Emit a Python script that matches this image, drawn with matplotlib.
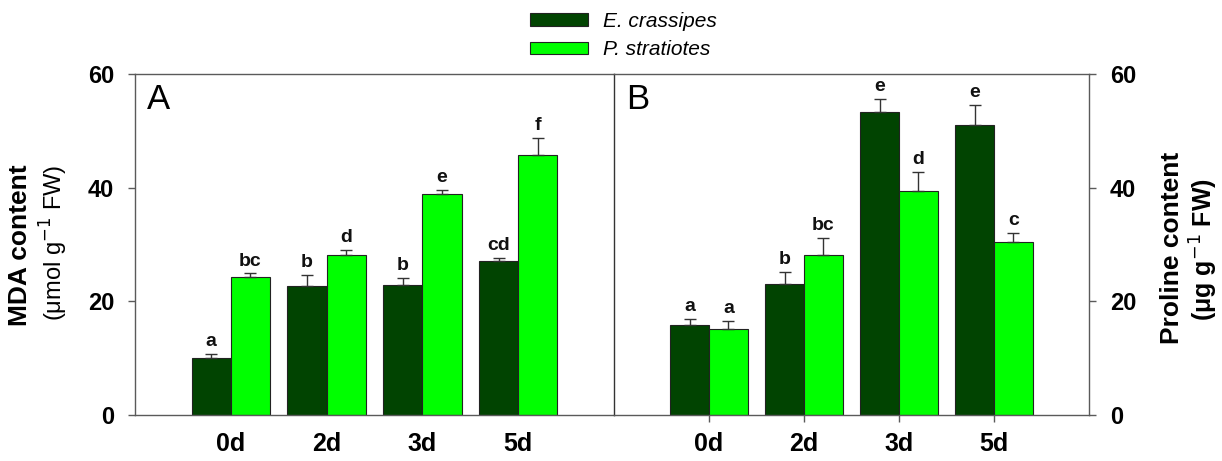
import numpy as np
import matplotlib
matplotlib.use('Agg')
from matplotlib import pyplot as plt
from matplotlib.patches import Patch

plt.rcParams['font.family'] = ['Liberation Sans Narrow', 'Liberation Sans', 'DejaVu Sans']

# data
days = ['0d', '2d', '3d', '5d']
series = ['E. crassipes', 'P. stratiotes']

mda_ec = [10.1, 22.7, 22.8, 27.1]
mda_ec_err = [0.6, 1.9, 1.3, 0.6]
mda_ps = [24.3, 28.2, 38.9, 45.8]
mda_ps_err = [0.6, 0.9, 0.7, 3.0]
mda_ec_lbl = ['a', 'b', 'b', 'cd']
mda_ps_lbl = ['bc', 'd', 'e', 'f']

pro_ec = [15.8, 23.0, 53.3, 51.1]
pro_ec_err = [1.1, 2.1, 2.3, 3.5]
pro_ps = [15.1, 28.2, 39.4, 30.4]
pro_ps_err = [1.5, 2.9, 3.4, 1.7]
pro_ec_lbl = ['a', 'b', 'e', 'e']
pro_ps_lbl = ['a', 'bc', 'd', 'c']

dark = '#014401'
light = '#00ff00'
edge = '#222222'
spc = '#5a5a5a'

W, H = 1222, 461
fig = plt.figure(figsize=(W / 100, H / 100), dpi=100)
axA = fig.add_axes([135 / W, 46 / H, 479 / W, 341 / H])
axB = fig.add_axes([614 / W, 46 / H, 475 / W, 341 / H])

x = np.arange(1, len(days) + 1)
bw = 0.41


def draw(ax, ec, ec_err, ps, ps_err, ec_lbl, ps_lbl):
    ax.bar(x - bw / 2, ec, bw, color=dark, edgecolor=edge, linewidth=0.8, zorder=2)
    ax.bar(x + bw / 2, ps, bw, color=light, edgecolor=edge, linewidth=0.8, zorder=2)
    ax.errorbar(x - bw / 2, ec, yerr=[np.zeros(len(ec)), ec_err], fmt='none',
                ecolor='#333333', elinewidth=1, capsize=4, capthick=1, zorder=3)
    ax.errorbar(x + bw / 2, ps, yerr=[np.zeros(len(ps)), ps_err], fmt='none',
                ecolor='#333333', elinewidth=1, capsize=4, capthick=1, zorder=3)
    for i in range(len(x)):
        ax.text(x[i] - bw / 2, ec[i] + ec_err[i] + 0.7, ec_lbl[i], ha='center', va='bottom',
                fontsize=14, fontweight='bold', color='#111111')
        ax.text(x[i] + bw / 2, ps[i] + ps_err[i] + 0.7, ps_lbl[i], ha='center', va='bottom',
                fontsize=14, fontweight='bold', color='#111111')
    ax.set_xlim(0, 5)
    ax.set_ylim(0, 60)
    ax.set_xticks(x)
    ax.set_xticklabels(days, fontsize=18, fontweight='bold')
    ax.set_yticks([0, 20, 40, 60])
    for s in ax.spines.values():
        s.set_color(spc)
        s.set_linewidth(1)


draw(axA, mda_ec, mda_ec_err, mda_ps, mda_ps_err, mda_ec_lbl, mda_ps_lbl)
draw(axB, pro_ec, pro_ec_err, pro_ps, pro_ps_err, pro_ec_lbl, pro_ps_lbl)

# panel A: left axis, no x ticks
axA.tick_params(axis='x', length=0, pad=12)
axA.tick_params(axis='y', direction='out', length=5, width=1, color=spc, pad=10, labelsize=17)
for t in axA.get_yticklabels():
    t.set_fontweight('bold')
axA.spines['right'].set_visible(False)

# panel B: right axis, its left spine is the divider
axB.spines['left'].set_color('#333333')
axB.yaxis.tick_right()
axB.tick_params(axis='x', direction='out', length=5, width=1, color=spc, pad=7)
axB.tick_params(axis='y', direction='out', length=5, width=1, color=spc, pad=10, labelsize=17)
for t in axB.get_yticklabels():
    t.set_fontweight('bold')

axA.text(0.025, 0.975, 'A', transform=axA.transAxes, fontsize=25, ha='left', va='top',
         family=['Liberation Sans', 'DejaVu Sans'])
axB.text(0.025, 0.975, 'B', transform=axB.transAxes, fontsize=25, ha='left', va='top',
         family=['Liberation Sans', 'DejaVu Sans'])

# axis titles
fig.text(20 / W, 1 - 245 / H, 'MDA content', rotation=90, ha='center', va='center',
         fontsize=19, fontweight='bold')
fig.text(54 / W, 1 - 243 / H, '(\u03bcmol g$^{-1}$ FW)', rotation=90, ha='center', va='center',
         fontsize=17)
fig.text(1172 / W, 1 - 248 / H, 'Proline content', rotation=90, ha='center', va='center',
         fontsize=19, fontweight='bold')
fig.text(1204 / W, 1 - 250 / H, '(\u03bcg g$^{-1}$ FW)', rotation=90, ha='center', va='center',
         fontsize=18, fontweight='bold')

handles = [Patch(facecolor=dark, edgecolor=edge, linewidth=0.8),
           Patch(facecolor=light, edgecolor=edge, linewidth=0.8)]
leg = fig.legend(handles, series, loc='upper left', bbox_to_anchor=(530 / W, 1 - 12 / H),
                 frameon=False, handlelength=2.8, handleheight=0.55,
                 labelspacing=0.45, handletextpad=0.7, borderpad=0, borderaxespad=0,
                 prop={'style': 'italic', 'size': 15})

fig.savefig('out.png', dpi=100)
